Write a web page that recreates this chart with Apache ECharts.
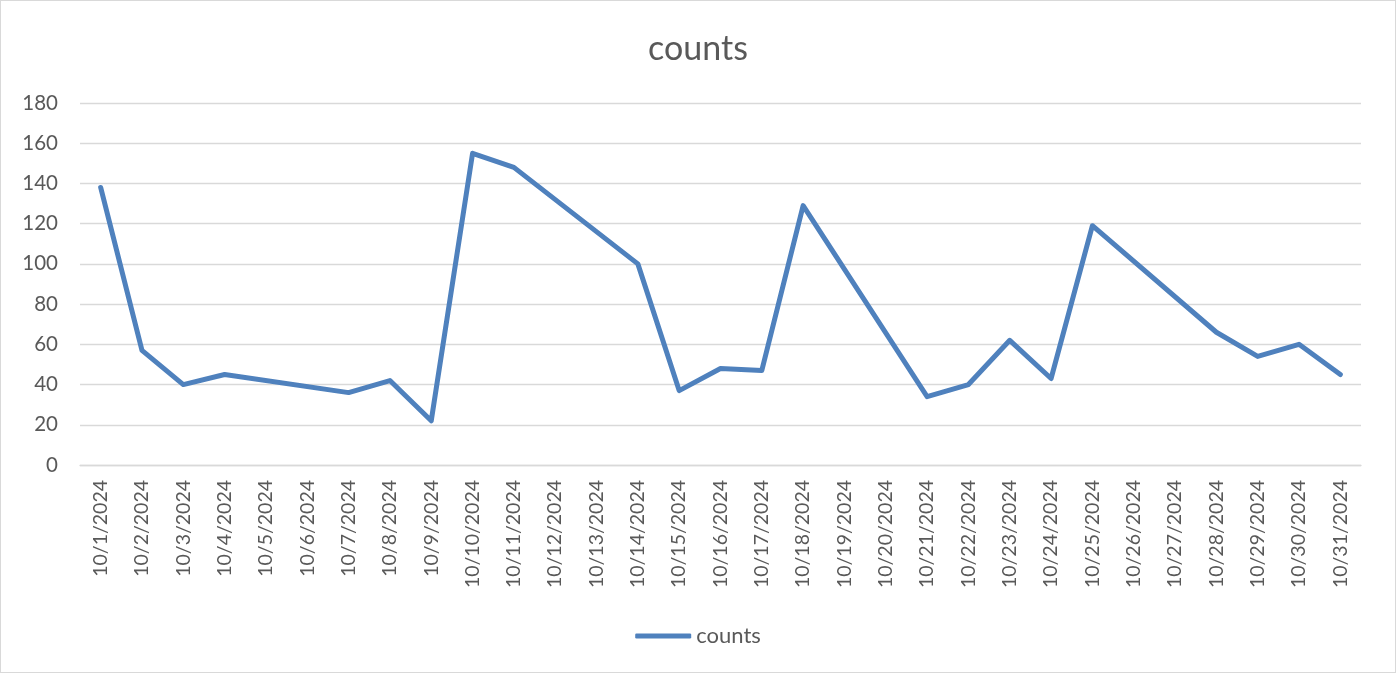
<!DOCTYPE html>
<html>
<head>
<meta charset="utf-8">
<script src="https://cdn.jsdelivr.net/npm/echarts@6/dist/echarts.min.js"></script>
<style>
html,body{margin:0;padding:0;background:#fff;}
#c{width:1394px;height:671px;border:1px solid #d9d9d9;}
</style>
</head>
<body>
<div id="c"></div>
<script>
const categories = ['10/1/2024','10/2/2024','10/3/2024','10/4/2024','10/5/2024','10/6/2024','10/7/2024','10/8/2024','10/9/2024','10/10/2024','10/11/2024','10/12/2024','10/13/2024','10/14/2024','10/15/2024','10/16/2024','10/17/2024','10/18/2024','10/19/2024','10/20/2024','10/21/2024','10/22/2024','10/23/2024','10/24/2024','10/25/2024','10/26/2024','10/27/2024','10/28/2024','10/29/2024','10/30/2024','10/31/2024'];
// null = no data for that date (line bridges the gap, as in the source)
const counts = [138,57,40,45,null,null,36,42,22,155,148,null,null,100,37,48,47,129,null,null,34,40,62,43,119,null,null,66,54,60,45];
const yMin = 0, yMax = 180, yStep = 20;

const chart = echarts.init(document.getElementById('c'));
const font = 'Lato, "Open Sans", sans-serif';
chart.setOption({
  animation: false,
  textStyle: {fontFamily: font},
  title: {
    text: 'counts', left: 'center', top: 26,
    textStyle: {fontFamily: font, fontSize: 34, fontWeight: 'normal', color: '#595959'}
  },
  legend: {
    data: ['counts'], bottom: 20, left: 'center',
    icon: 'roundRect', itemWidth: 56, itemHeight: 5,
    textStyle: {fontFamily: font, fontSize: 22, color: '#595959'}
  },
  grid: {left: 79, right: 34, top: 102, bottom: 207, containLabel: false},
  xAxis: {
    type: 'category', data: categories, boundaryGap: true,
    axisLine: {lineStyle: {color: '#d9d9d9', width: 1.3}},
    axisTick: {show: false},
    axisLabel: {rotate: 90, interval: 0, fontSize: 19.5, color: '#595959', fontFamily: font, margin: 15}
  },
  yAxis: {
    type: 'value', min: yMin, max: yMax, interval: yStep,
    axisLine: {show: false}, axisTick: {show: false},
    splitLine: {lineStyle: {color: '#d9d9d9', width: 1.3}},
    axisLabel: {fontSize: 20.5, color: '#595959', fontFamily: font, margin: 22}
  },
  series: [{
    name: 'counts', type: 'line', data: counts, connectNulls: true,
    symbol: 'none', lineStyle: {color: '#4f81bd', width: 5, join: 'round', cap: 'round'},
    itemStyle: {color: '#4f81bd'}
  }]
});
</script>
</body>
</html>
